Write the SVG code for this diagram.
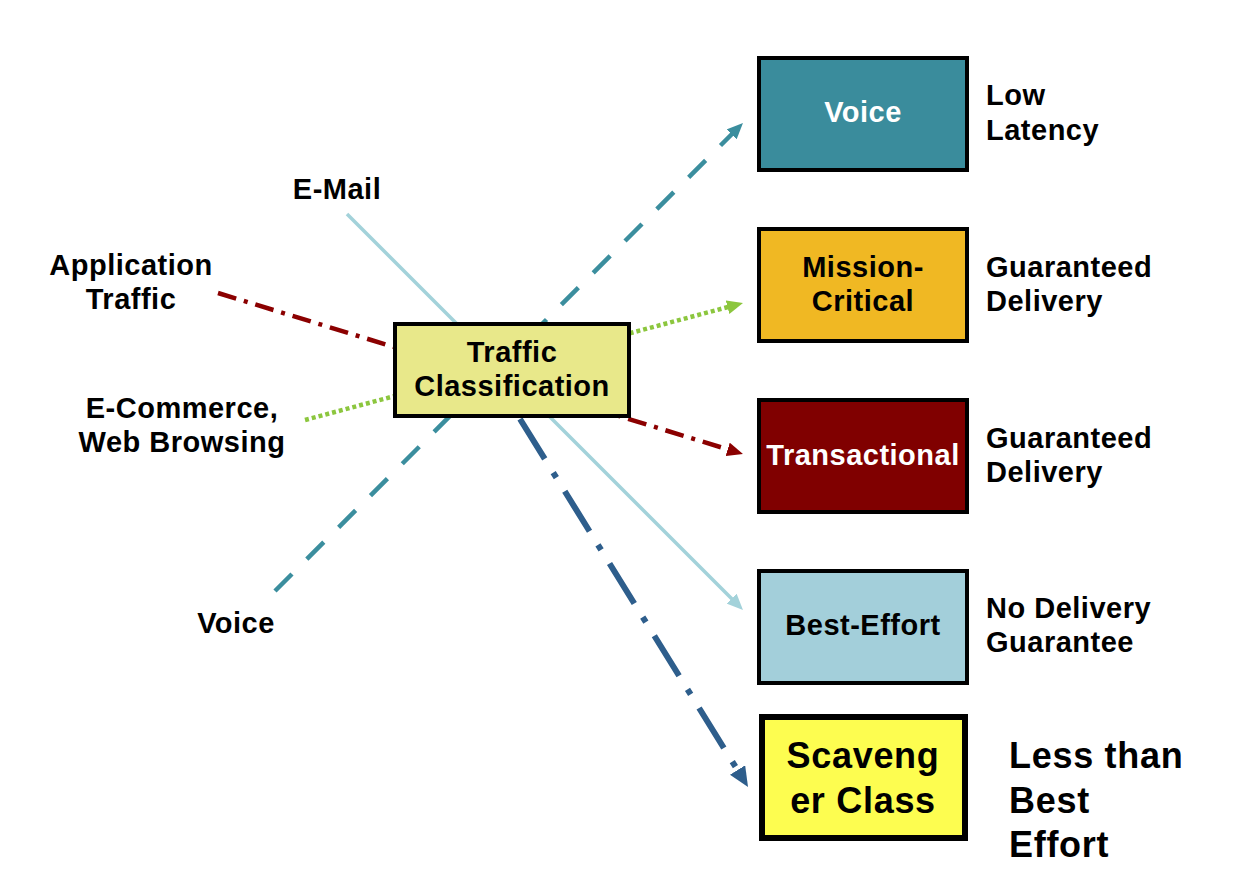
<svg xmlns="http://www.w3.org/2000/svg" width="1244" height="895" viewBox="0 0 1244 895">
<style>
text{font-family:"Liberation Sans",Arial,sans-serif;font-weight:bold;font-size:29px;letter-spacing:0.5px;fill:#000}
.c{text-anchor:middle}
.w{fill:#fff}
.big{font-size:36px;letter-spacing:0.7px}
.box{stroke:#000;stroke-width:4}
.ln{fill:none;stroke-linecap:butt}
</style>
<defs>
<marker id="aLb" markerUnits="userSpaceOnUse" markerWidth="16" markerHeight="14" refX="4" refY="7" orient="auto"><path d="M0,0 L16,7 L0,14 z" fill="#A3D2DA"/></marker>
<marker id="aTl" markerUnits="userSpaceOnUse" markerWidth="16" markerHeight="14" refX="4" refY="7" orient="auto"><path d="M0,0 L16,7 L0,14 z" fill="#3B8E9E"/></marker>
<marker id="aRd" markerUnits="userSpaceOnUse" markerWidth="16" markerHeight="14" refX="4" refY="7" orient="auto"><path d="M0,0 L16,7 L0,14 z" fill="#8B0000"/></marker>
<marker id="aGr" markerUnits="userSpaceOnUse" markerWidth="16" markerHeight="14" refX="4" refY="7" orient="auto"><path d="M0,0 L16,7 L0,14 z" fill="#8CC63E"/></marker>
<marker id="aBl" markerUnits="userSpaceOnUse" markerWidth="20" markerHeight="18" refX="4" refY="9" orient="auto"><path d="M0,0 L20,9 L0,18 z" fill="#2E5E8C"/></marker>
</defs>
<rect width="1244" height="895" fill="#fff"/>
<g id="connectors">
<line class="ln" x1="347" y1="214" x2="734.5" y2="601.5" stroke="#A3D2DA" stroke-width="3.5" marker-end="url(#aLb)"/>
<line class="ln" x1="275" y1="591" x2="734.5" y2="131.5" stroke="#3B8E9E" stroke-width="4.5" stroke-dasharray="24 21" marker-end="url(#aTl)"/>
<line class="ln" x1="218" y1="293" x2="731.5" y2="450.5" stroke="#8B0000" stroke-width="4.5" stroke-dasharray="19 8 4 8" marker-end="url(#aRd)"/>
<line class="ln" x1="305" y1="420" x2="731.4" y2="306.1" stroke="#8CC63E" stroke-width="4.5" stroke-dasharray="4 3" marker-end="url(#aGr)"/>
<line class="ln" x1="520" y1="419" x2="739.6" y2="773.4" stroke="#2E5E8C" stroke-width="6" stroke-dasharray="47 16 6 16" marker-end="url(#aBl)"/>
</g>
<g id="traffic-classification">
<rect class="box" x="395" y="324" width="234" height="92" fill="#E8E88A"/>
<text class="c" x="512" y="362">Traffic</text>
<text class="c" x="512" y="396">Classification</text>
</g>
<g id="voice">
<rect class="box" x="759" y="58" width="208" height="112" fill="#3A8C9C"/>
<text class="c w" x="863" y="122">Voice</text>
</g>
<g id="mission-critical">
<rect class="box" x="759" y="229" width="208" height="112" fill="#F0B823"/>
<text class="c" x="863" y="277">Mission-</text>
<text class="c" x="863" y="311">Critical</text>
</g>
<g id="transactional">
<rect class="box" x="759" y="400" width="208" height="112" fill="#800000"/>
<text class="c w" x="863" y="465">Transactional</text>
</g>
<g id="best-effort">
<rect class="box" x="759" y="571" width="208" height="112" fill="#A3CFDA"/>
<text class="c" x="863" y="635">Best-Effort</text>
</g>
<g id="scavenger">
<rect x="762" y="717" width="203" height="121" fill="#FDFD50" stroke="#000" stroke-width="6"/>
<text class="c big" x="863" y="768">Scaveng</text>
<text class="c big" x="863" y="813">er Class</text>
</g>
<g id="labels">
<text class="c" x="337" y="199">E-Mail</text>
<text class="c" x="131" y="275">Application</text>
<text class="c" x="131" y="309">Traffic</text>
<text class="c" x="182" y="418">E-Commerce,</text>
<text class="c" x="182" y="452">Web Browsing</text>
<text class="c" x="236" y="633">Voice</text>
<text x="986" y="105">Low</text>
<text x="986" y="140">Latency</text>
<text x="986" y="277">Guaranteed</text>
<text x="986" y="311">Delivery</text>
<text x="986" y="448">Guaranteed</text>
<text x="986" y="482">Delivery</text>
<text x="986" y="618">No Delivery</text>
<text x="986" y="652">Guarantee</text>
<text class="big" x="1009" y="768">Less than</text>
<text class="big" x="1009" y="813">Best</text>
<text class="big" x="1009" y="857">Effort</text>
</g>
</svg>
